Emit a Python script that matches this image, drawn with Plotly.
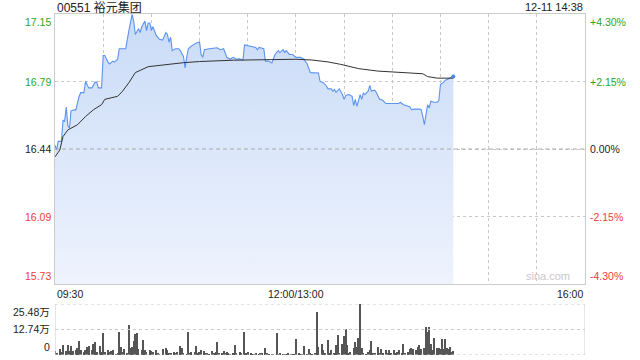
import plotly.graph_objects as go

# ---------------- data ----------------
stock_title = "00551 裕元集团"
stamp = "12-11 14:38"
prev_close = 16.44
pct_levels = [4.30, 2.15, 0.00, -2.15, -4.30]
x_tick_labels = ["09:30", "12:00/13:00", "16:00"]
x_tick_minutes = [0, 150, 330]
session_minutes = 330

price_min = [0, 1, 2, 4, 5, 6, 7, 8, 9, 10, 12, 13, 15, 16, 18, 19, 21, 23, 25, 26, 27, 29,
             30, 31, 33, 34, 36, 37, 39, 40, 42, 44, 46, 47, 48, 49, 50, 52, 53, 54, 56, 57,
             58, 59, 60, 61, 63, 65, 67, 69, 70, 71, 72, 73, 75, 77, 78, 80, 81, 82, 83, 85,
             88, 90, 91, 92, 93, 96, 101, 103, 105, 107, 109, 111, 113, 115, 117, 118, 121,
             125, 126, 127, 130, 131, 133, 135, 137, 139, 140, 142, 143, 144, 146, 148, 150,
             153, 155, 157, 159, 162, 164, 165, 167, 169, 170, 172, 173, 174, 175, 177, 178,
             179, 180, 181, 183, 185, 186, 187, 188, 190, 191, 192, 193, 195, 196, 197, 199,
             200, 202, 204, 206, 210, 214, 215, 217, 219, 221, 222, 224, 227, 228, 229, 230,
             231, 232, 233, 234, 236, 238, 239, 240, 242, 243, 245, 246, 248]
price = [16.46, 16.435, 16.48, 16.48, 16.59, 16.585, 16.66, 16.56, 16.55, 16.64, 16.645, 16.645,
         16.715, 16.735, 16.735, 16.795, 16.76, 16.76, 16.79, 16.79, 16.76, 16.76,
         16.93, 16.93, 16.895, 16.885, 16.90, 16.895, 16.91, 16.965, 16.965, 16.965, 17.06,
         17.105, 17.145, 17.11, 17.04, 17.07, 17.05, 17.08, 17.11, 17.06,
         17.10, 17.10, 17.06, 17.08, 17.035, 17.015, 17.01, 17.05, 17.04, 17.00, 17.025,
         16.955, 16.965, 16.965, 16.955, 16.925, 16.865, 16.92, 16.965, 16.98,
         16.995, 17.00, 16.935, 16.92, 16.96, 16.965, 16.97, 16.96, 16.965, 16.92, 16.91,
         16.92, 16.91, 16.912, 16.905, 16.985, 16.98,
         16.972, 16.96, 16.972, 16.965, 16.90, 16.90, 16.89, 16.935, 16.955, 16.945, 16.96,
         16.945, 16.955, 16.935, 16.935, 16.92,
         16.92, 16.91, 16.885, 16.84, 16.838, 16.838, 16.795, 16.787, 16.77, 16.755, 16.755,
         16.743, 16.752, 16.737, 16.755, 16.743,
         16.725, 16.70, 16.72, 16.725, 16.716, 16.667, 16.70, 16.663, 16.725, 16.70, 16.734,
         16.725, 16.743, 16.773, 16.743, 16.748,
         16.737, 16.702, 16.695, 16.678, 16.678, 16.678, 16.685, 16.672, 16.667, 16.66,
         16.646, 16.649, 16.649, 16.646, 16.611, 16.567,
         16.62, 16.672, 16.655, 16.69, 16.685, 16.685, 16.695, 16.778, 16.79, 16.80, 16.806,
         16.813, 16.82]

avg_min = [0, 3, 5, 8, 14, 19, 24, 29, 31, 39, 42, 46, 50, 54, 58, 80, 90, 111, 132, 150,
           160, 170, 178, 189, 201, 218, 229, 232, 238, 248]
avg_price = [16.399, 16.435, 16.505, 16.54, 16.567, 16.61, 16.646, 16.672, 16.70, 16.716,
             16.742, 16.787, 16.84, 16.857, 16.871, 16.892, 16.898, 16.905, 16.906, 16.91,
             16.906, 16.896, 16.883, 16.861, 16.848, 16.84, 16.834, 16.819, 16.811, 16.811]

vol_min = [0, 1, 3, 4, 5, 7, 8, 9, 10, 11, 13, 14, 15, 16, 18, 19, 20, 21, 23, 24, 25, 26, 28,
           29, 30, 31, 33, 34, 35, 36, 38, 39, 40, 41, 42, 43, 45, 46, 47, 48, 49, 50, 51, 52,
           54, 55, 56, 57, 59, 60, 61, 63, 64, 65, 67, 69, 70, 71, 72, 74, 75, 76, 78, 79, 80,
           82, 83, 84, 85, 87, 88, 89, 90, 91, 93, 94, 95, 96, 98, 99, 100, 101, 102, 104, 105,
           106, 107, 108, 109, 111, 112, 113, 115, 116, 118, 119, 120, 122, 123, 124, 125, 127,
           128, 129, 131, 132, 133, 135, 136, 138, 139, 140, 142, 143, 144, 145, 147, 148, 149,
           150, 152, 153, 154, 155, 157, 158, 159, 160, 162, 163, 164, 166, 167, 168, 170, 171,
           172, 174, 175, 176, 177, 179, 180, 181, 182, 183, 184, 186, 187, 188, 189, 190, 191,
           192, 194, 195, 196, 197, 198, 199, 201, 202, 203, 204, 206, 207, 208, 209, 211, 212,
           213, 214, 216, 217, 218, 220, 221, 222, 223, 225, 226, 227, 228, 230, 231, 232, 233,
           234, 235, 236, 238, 239, 240, 241, 242, 243, 244, 245, 246, 247, 248]
volume = [2.2, 1.2, 2.9, 1.7, 5.1, 2.2, 5.1, 2.2, 4.6, 2.2, 2.5, 3.4, 7.1, 2.5, 1.7, 2.5, 3.9,
          4.6, 2.5, 5.6, 6.5, 1.7, 4.6, 1.7, 11.2, 1.7, 2.5, 1.7, 2.0, 2.5, 0.3, 0.8, 11.7, 4.2,
          1.4, 2.9, 1.2, 14.8, 3.4, 4.2, 6.8, 10.7, 11.2, 2.9, 2.5, 7.6, 2.5, 1.7, 2.5, 2.0, 1.7,
          2.5, 0.8, 0.3, 2.9, 3.4, 2.5, 1.2, 0.8, 1.7, 1.2, 1.7, 4.6, 3.4, 0.8, 0.3, 11.7, 1.2,
          1.4, 1.7, 4.6, 1.2, 1.7, 2.5, 2.2, 1.2, 0.8, 0.3, 2.0, 1.2, 1.7, 6.6, 0.8, 1.2, 2.0,
          1.2, 1.7, 0.8, 0.3, 0.8, 5.1, 0.8, 1.4, 0.8, 11.7, 0.8, 1.4, 0.8, 0.5, 0.5, 0.8, 0.3,
          0.8, 1.2, 3.4, 1.2, 0.5, 0.5, 0.3, 11.2, 0.5, 1.2, 0.5, 0.3, 0.5, 1.2, 0.5, 0.3, 0.5,
          8.2, 0.8, 0.5, 0.3, 4.6, 0.5, 3.1, 1.2, 0.5, 0.8, 21.6, 4.2, 5.6, 2.5, 0.8, 7.6, 0.8,
          2.5, 0.8, 4.8, 10.2, 0.8, 5.6, 9.3, 13.1, 4.8, 0.8, 1.7, 3.4, 6.6, 3.9, 8.7, 25.48,
          3.4, 0.8, 0.5, 1.7, 2.5, 6.8, 1.2, 0.8, 3.9, 1.2, 3.1, 0.8, 2.7, 0.8, 2.5, 0.8, 2.5,
          0.8, 1.7, 2.5, 0.8, 5.6, 0.8, 1.4, 2.9, 3.4, 2.9, 2.5, 4.2, 5.1, 2.9, 3.4, 14.1, 11.4,
          14.1, 5.6, 2.5, 8.5, 3.4, 3.4, 3.1, 8.0, 3.1, 8.0, 3.4, 3.1, 3.9, 1.7, 2.0]
vol_ticks = [0, 12.74, 25.48]
vol_tick_labels = ["0", "12.74万", "25.48万"]

# ---------------- styles ----------------
FONT = "Liberation Sans, Arial, Noto Sans CJK SC, sans-serif"
GREEN = "#1fa81f"
RED = "#ee3b3b"
DARK = "#222222"
GRID = "#c8c8c8"
BORDER = "#cccccc"

levels = [prev_close * (1 + p / 100) for p in pct_levels]
ymax, ymin = levels[0], levels[-1]

fig = go.Figure()

fig.add_trace(go.Scatter(
    x=price_min, y=price, mode="lines", line=dict(color="#5b93ef", width=1.1),
    fill="tozeroy",
    fillgradient=dict(type="vertical", start=ymin, stop=ymax,
                      colorscale=[[0, "#eef3fd"], [1, "#c9dbf7"]]),
    hoverinfo="skip", xaxis="x", yaxis="y"))
fig.add_trace(go.Scatter(
    x=avg_min, y=avg_price, mode="lines", line=dict(color="#333333", width=1),
    hoverinfo="skip", xaxis="x", yaxis="y"))
fig.add_trace(go.Scatter(
    x=price_min[-1:], y=price[-1:], mode="markers",
    marker=dict(color="#4a86ea", size=4), hoverinfo="skip", xaxis="x", yaxis="y"))
fig.add_trace(go.Bar(
    x=vol_min, y=volume, width=0.75, marker=dict(color="#555555", line=dict(width=0)),
    hoverinfo="skip", xaxis="x2", yaxis="y2"))

main_dom = [0.2082, 1.0]
vol_dom = [0.0, 0.1496]

fig.update_layout(
    width=640, height=360, margin=dict(l=55, r=55, t=14, b=5),
    paper_bgcolor="white", plot_bgcolor="white", showlegend=False,
    bargap=0,
    xaxis=dict(domain=[0, 1], range=[0, session_minutes], dtick=30, tick0=0,
               showgrid=True, gridcolor=GRID, griddash="dot", gridwidth=1,
               showticklabels=False, ticks="", zeroline=False,
               showline=True, linecolor=BORDER, mirror=True, anchor="y"),
    yaxis=dict(domain=main_dom, range=[ymin, ymax], tickvals=levels,
               showgrid=True, gridcolor=GRID, griddash="dot",
               showticklabels=False, ticks="", zeroline=False,
               showline=True, linecolor=BORDER, mirror=True, anchor="x"),
    xaxis2=dict(domain=[0, 1], range=[0, session_minutes], showgrid=False,
                showticklabels=False, ticks="", zeroline=False, showline=False,
                anchor="y2"),
    yaxis2=dict(domain=vol_dom, range=[0, vol_ticks[-1]], showgrid=False,
                showticklabels=False, ticks="", zeroline=False, showline=False,
                anchor="x2"),
)

shapes = []
shapes.append(dict(type="line", xref="x", yref="y", x0=0, x1=session_minutes,
                   y0=prev_close, y1=prev_close, line=dict(color="#aaaaaa", width=1, dash="4px,3px")))
for v in vol_ticks:
    shapes.append(dict(type="line", xref="x2", yref="y2", x0=0, x1=session_minutes,
                       y0=v, y1=v, line=dict(color=GRID, width=1, dash="dot")))
shapes.append(dict(type="line", xref="x2", yref="y2", x0=session_minutes, x1=session_minutes,
                   y0=0, y1=vol_ticks[-1], line=dict(color=BORDER, width=1)))
shapes.append(dict(type="line", xref="x2", yref="y2", x0=0, x1=0,
                   y0=0, y1=vol_ticks[-1], line=dict(color=BORDER, width=1)))
fig.update_layout(shapes=shapes)

ann = []
def A(**k):
    base = dict(showarrow=False, font=dict(family=FONT, size=10.5, color=DARK))
    base.update(k)
    ann.append(base)

A(text=stock_title, xref="paper", yref="paper", x=0, y=1, yshift=7, xanchor="left",
  yanchor="middle", font=dict(family=FONT, size=12, color=DARK))
A(text=stamp, xref="paper", yref="paper", x=1, y=1, yshift=7, xanchor="right",
  yanchor="middle", font=dict(family=FONT, size=11, color=DARK))

def lvl_color(p):
    return GREEN if p > 0 else (RED if p < 0 else DARK)

n = len(levels)
for i, (p, lv) in enumerate(zip(pct_levels, levels)):
    frac = main_dom[0] + (lv - ymin) / (ymax - ymin) * (main_dom[1] - main_dom[0])
    yanc = "top" if i == 0 else ("bottom" if i == n - 1 else "middle")
    c = lvl_color(p)
    A(text=f"{lv:.2f}", xref="paper", yref="paper", x=0, y=frac, xanchor="right", yanchor=yanc,
      xshift=-2, font=dict(family=FONT, size=10.5, color=c))
    sign = "+" if p > 0 else ""
    A(text=f"{sign}{p:.2f}%", xref="paper", yref="paper", x=1, y=frac, xanchor="left",
      yanchor=yanc, xshift=3, font=dict(family=FONT, size=10.5, color=c))

anchors = ["left", "center", "right"]
for t, m, a in zip(x_tick_labels, x_tick_minutes, anchors):
    A(text=t, xref="x", yref="paper", x=m, y=main_dom[0], xanchor=a, yanchor="top", yshift=-2)

nv = len(vol_ticks)
for i, (v, t) in enumerate(zip(vol_ticks, vol_tick_labels)):
    frac = vol_dom[0] + v / vol_ticks[-1] * (vol_dom[1] - vol_dom[0])
    yanc = "bottom" if i == 0 else ("top" if i == nv - 1 else "middle")
    A(text=t, xref="paper", yref="paper", x=0, y=frac, xanchor="right", yanchor=yanc, xshift=-3)

A(text="sina.com", xref="paper", yref="paper", x=0.975, y=main_dom[0], xanchor="right",
  yanchor="bottom", font=dict(family=FONT, size=11, color="#c8c8c8"))

fig.update_layout(annotations=ann)
fig.write_html("out.html")
